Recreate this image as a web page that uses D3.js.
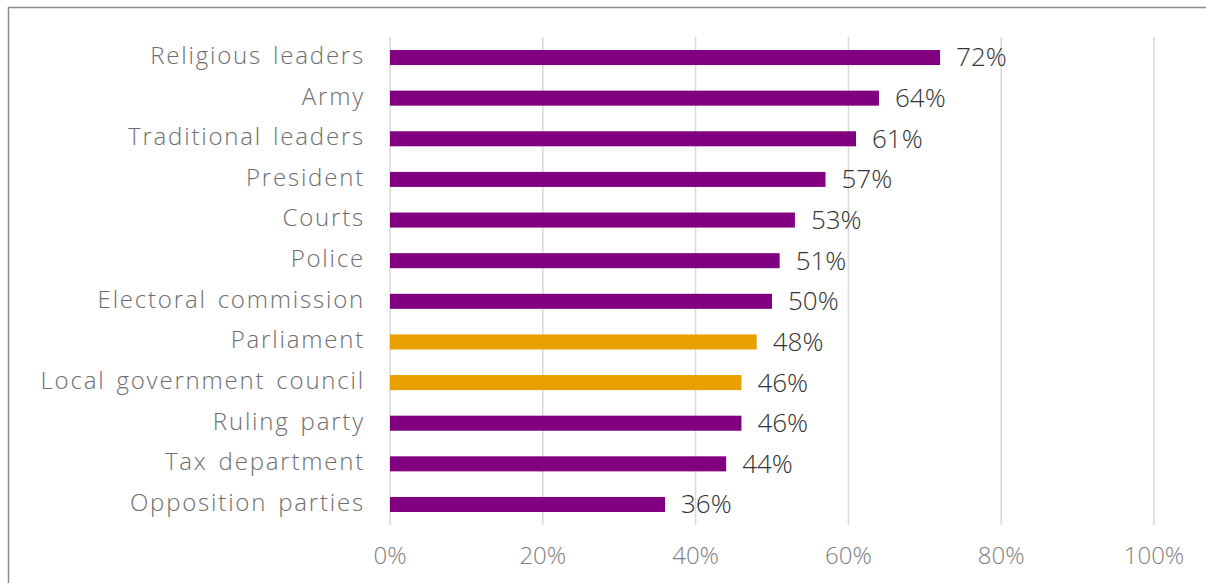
<!DOCTYPE html>
<html>
<head>
<meta charset="utf-8">
<script src="https://cdnjs.cloudflare.com/ajax/libs/d3/7.8.5/d3.min.js"></script>
<style>
  body { margin: 0; background: #fff; }
  svg { display: block; }
</style>
</head>
<body>
<script>
const categories = ["Religious leaders", "Army", "Traditional leaders", "President", "Courts", "Police",
  "Electoral commission", "Parliament", "Local government council", "Ruling party", "Tax department", "Opposition parties"];
const values = [72, 64, 61, 57, 53, 51, 50, 48, 46, 46, 44, 36];
const highlighted = ["Parliament", "Local government council"];
const ticks = [0, 20, 40, 60, 80, 100];

const w = 1206;
const h = 583;
const margin = {top: 37, left: 390, right: 52, bottom: 58};

const svg = d3.select("body")
  .append("svg")
  .attr("width", w)
  .attr("height", h);

// outer frame (right and bottom edges fall outside the picture)
svg.append("rect")
  .attr("x", 8.5).attr("y", 7.5)
  .attr("width", w).attr("height", h)
  .attr("fill", "none")
  .attr("stroke", "#8c8c8c")
  .attr("stroke-width", 1.5);

const x = d3.scaleLinear().domain([0, 100]).range([margin.left, w - margin.right]);
const y = d3.scaleBand().domain(categories).range([margin.top, h - margin.bottom]).paddingInner(0.63).paddingOuter(0.32);

// grid
svg.selectAll("line.grid")
  .data(ticks)
  .enter()
  .append("line")
  .attr("class", "grid")
  .attr("x1", d => x(d)).attr("x2", d => x(d))
  .attr("y1", margin.top).attr("y2", h - margin.bottom)
  .attr("stroke", "#d9d9d9")
  .attr("stroke-width", 1.5);

svg.selectAll("rect.bar")
  .data(categories)
  .enter()
  .append("rect")
  .attr("class", "bar")
  .attr("x", x(0))
  .attr("y", d => y(d))
  .attr("width", (d, i) => x(values[i]) - x(0))
  .attr("height", y.bandwidth())
  .attr("fill", d => highlighted.includes(d) ? "#E8A000" : "#800080");

// value labels
svg.selectAll("text.val")
  .data(categories)
  .enter()
  .append("text")
  .attr("class", "val")
  .attr("x", (d, i) => x(values[i]) + 16)
  .attr("y", d => y(d) + y.bandwidth() / 2 + 2)
  .attr("dominant-baseline", "middle")
  .text((d, i) => values[i] + "%")
  .attr("font-family", "'Open Sans', sans-serif")
  .attr("font-weight", 300)
  .attr("font-size", "26px")
  .attr("fill", "#333333");

// category labels
svg.selectAll("text.cat")
  .data(categories)
  .enter()
  .append("text")
  .attr("class", "cat")
  .attr("x", margin.left - 25)
  .attr("y", d => y(d) + y.bandwidth() / 2)
  .attr("dominant-baseline", "middle")
  .attr("text-anchor", "end")
  .text(d => d)
  .attr("font-family", "'Open Sans', sans-serif")
  .attr("font-weight", 300)
  .attr("font-size", "24px")
  .attr("letter-spacing", "1.8px")
  .attr("word-spacing", "3px")
  .attr("fill", "#6e6e6e");

// x axis labels
svg.selectAll("text.tick")
  .data(ticks)
  .enter()
  .append("text")
  .attr("class", "tick")
  .attr("x", d => x(d))
  .attr("y", 558)
  .attr("dominant-baseline", "middle")
  .attr("text-anchor", "middle")
  .text(d => d + "%")
  .attr("font-family", "'Open Sans', sans-serif")
  .attr("font-weight", 300)
  .attr("font-size", "24px")
  .attr("fill", "#808080");
</script>
</body>
</html>
